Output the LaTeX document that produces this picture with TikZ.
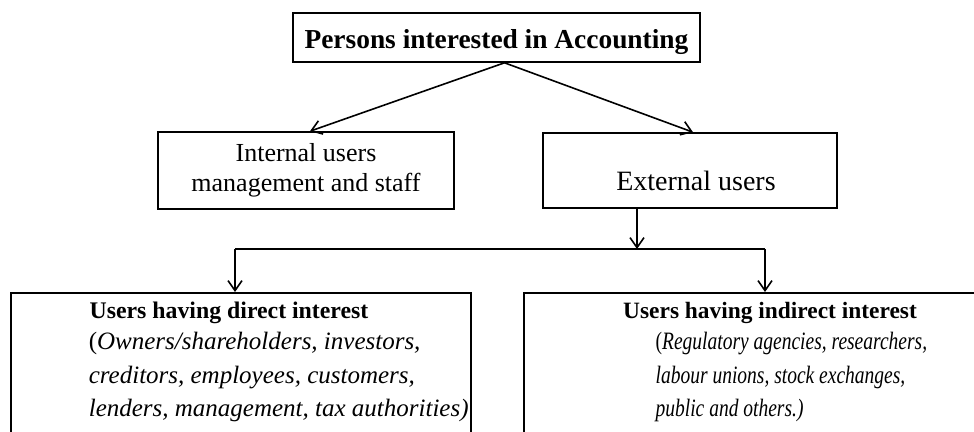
\documentclass[tikz,border=0pt]{standalone}
\usepackage{fontspec}
\setmainfont{Liberation Serif}
\usetikzlibrary{arrows.meta,positioning}
\tikzset{>={Straight Barb[length=5pt,width=7pt]}}
\tikzset{box/.style={draw, line width=0.8pt, inner sep=0pt, align=center}}

\begin{document}
\begin{tikzpicture}[x=0.5pt, y=-0.5pt, line width=0.8pt, font=\fontsize{13}{15}\selectfont]
    \useasboundingbox (0,0) rectangle (974,432);
    \clip (0,0) rectangle (974,432);

    \node[box, minimum width=203.5pt, minimum height=24.5pt, text height=11pt, text depth=0pt,
        font=\fontsize{13.7}{15}\selectfont\bfseries] at (496.5,37.5) (persons) {Persons interested in Accounting};

    \node[box, minimum width=148pt, minimum height=38.5pt] at (306,170.5) (internal) {Internal users\\ management and staff};
    \node[box, minimum width=147pt, minimum height=37.5pt, text height=20pt, text depth=0pt,
        font=\fontsize{14}{16}\selectfont] at (690,170.5) (external) {\hspace*{6pt}External users};

    \node[box, minimum width=230pt, minimum height=84pt, anchor=north] at (241,292) (direct) {};
    \node[box, minimum width=243pt, minimum height=84pt, anchor=north] at (767,292) (indirect) {};

    \node[font=\fontsize{11.9}{14}\selectfont\bfseries] at (229,313) (directhead) {Users having direct interest};
    \node[anchor=west, align=left, inner sep=0pt, font=\fontsize{12.5}{16.75}\selectfont\itshape] at (88,377) (directlist)
        {\textup{(}Owners/shareholders, investors,\\ creditors, employees, customers,\\ lenders, management, tax authorities)};

    \node[font=\fontsize{11.7}{14}\selectfont\bfseries] at (770,313) (indirecthead) {Users having indirect interest};
    \node[anchor=west, align=left, inner sep=0pt, xscale=0.78, transform shape,
        font=\fontsize{12.5}{16.75}\selectfont\itshape] at (655,377) (indirectlist)
        {\textup{(}Regulatory agencies, researchers,\\ labour unions, stock exchanges,\\ public and others.)};

    \coordinate (fork) at (637,249);
    \coordinate (forkleft) at (235,249);
    \coordinate (forkright) at (765,249);

    \draw[->] ([xshift=4pt]persons.south) -- ([xshift=2pt]internal.north);
    \draw[->] ([xshift=4pt]persons.south) -- ([xshift=1.5pt]external.north);
    \draw[->] (external.south -| fork) -- (fork);
    \draw (forkleft) -- (forkright);
    \draw[->] (forkleft) -- (forkleft |- direct.north);
    \draw[->] (forkright) -- (forkright |- indirect.north);

\end{tikzpicture}
\end{document}
